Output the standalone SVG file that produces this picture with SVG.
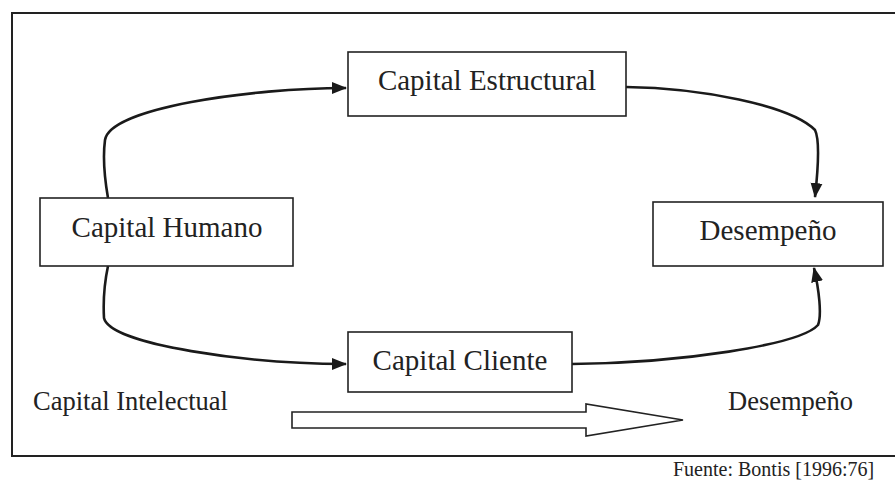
<svg xmlns="http://www.w3.org/2000/svg" width="895" height="481" viewBox="0 0 895 481">
  <style>
    .frame { fill: #fff; stroke: #222; stroke-width: 2; }
    .box { fill: #fff; stroke: #222; stroke-width: 1.6; }
    .lbl { font-family: "Liberation Serif", "Times New Roman", serif; fill: #222; }
    .big { font-size: 29px; text-anchor: middle; }
    .mid { font-size: 26.5px; }
    .small { font-size: 20px; }
    .conn { fill: none; stroke: #1a1a1a; stroke-width: 2.6; marker-end: url(#head); }
    .hollow { fill: #fff; stroke: #222; stroke-width: 1.6; stroke-linejoin: miter; }
  </style>
  <defs>
    <marker id="head" markerWidth="16" markerHeight="14" refX="14" refY="6" orient="auto" markerUnits="userSpaceOnUse" viewBox="0 0 16 12">
      <path d="M0,0 L15,6 L0,12 Z" fill="#1a1a1a"/>
    </marker>
  </defs>

  <rect width="895" height="481" fill="#fff"/>
  <rect class="frame" x="12" y="13" width="890" height="443"/>

  <g id="connectors">
    <path class="conn" d="M108,198 C104,175 103,155 105,140 C110,108 250,88 346,88"/>
    <path class="conn" d="M626,87 C700,88 790,105 815,130 C820,140 818,170 815,197"/>
    <path class="conn" d="M108,266 C104,285 103,300 104,318 C110,345 250,364 346,364"/>
    <path class="conn" d="M572,364 C680,363 800,345 818,325 C822,315 819,290 814,268"/>
  </g>

  <g id="capital-estructural">
    <rect class="box" x="348" y="52" width="278" height="64"/>
    <text class="lbl big" x="487" y="90">Capital Estructural</text>
  </g>

  <g id="capital-humano">
    <rect class="box" x="40" y="198" width="253" height="68"/>
    <text class="lbl big" x="167" y="237">Capital Humano</text>
  </g>

  <g id="desempeno">
    <rect class="box" x="653" y="202" width="230" height="64"/>
    <text class="lbl big" x="768" y="240">Desempeño</text>
  </g>

  <g id="capital-cliente">
    <rect class="box" x="348" y="332" width="224" height="60"/>
    <text class="lbl big" x="460" y="370">Capital Cliente</text>
  </g>

  <g id="flow-arrow">
    <polygon class="hollow" points="292,412 586,412 586,404 683,420 586,436 586,428 292,428"/>
  </g>

  <text class="lbl mid" x="33" y="410">Capital Intelectual</text>
  <text class="lbl mid" x="728" y="410">Desempeño</text>
  <text class="lbl small" x="673" y="476">Fuente: Bontis [1996:76]</text>
</svg>
